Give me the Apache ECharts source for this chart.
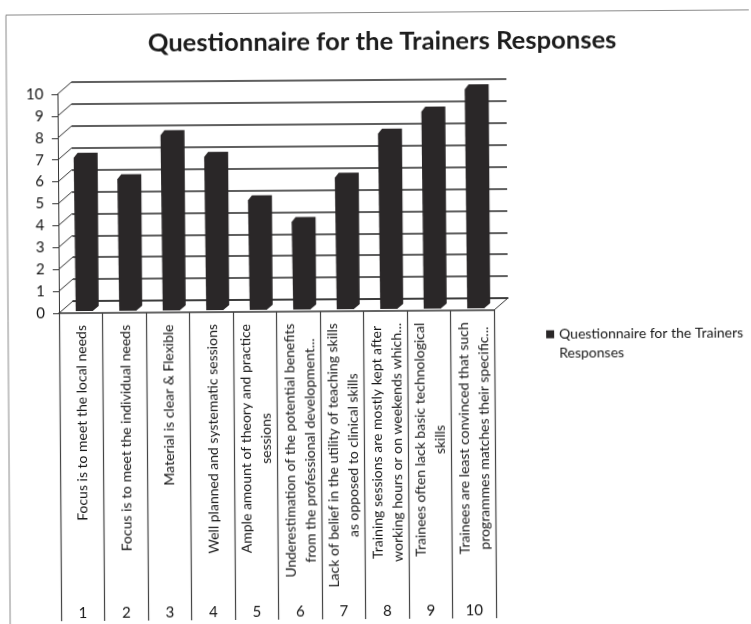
<!DOCTYPE html>
<html>
<head>
<meta charset="utf-8">
<title>Questionnaire for the Trainers Responses</title>
<script src="https://cdn.jsdelivr.net/npm/echarts@6/dist/echarts.min.js"></script>
<style>
  html, body { margin: 0; padding: 0; background: #fff; overflow: hidden; }
  /* the scan is very slightly tilted */
  #chart { width: 751px; height: 624px; transform: rotate(-0.4deg); }
</style>
</head>
<body>
<div id="chart"></div>
<script>
const seriesName = 'Questionnaire for the Trainers Responses';
const categories = ['1', '2', '3', '4', '5', '6', '7', '8', '9', '10'];
const values = [7, 6, 8, 7, 5, 4, 6, 8, 9, 10];
const yTicks = [0, 1, 2, 3, 4, 5, 6, 7, 8, 9, 10];
// wrapped the same way as the original axis labels
const labelLines = [
  ['Focus is to meet the local needs'],
  ['Focus is to meet the individual needs'],
  ['Material is clear & Flexible'],
  ['Well planned and systematic sessions'],
  ['Ample amount of theory and practice', 'sessions'],
  ['Underestimation of the potential benefits', 'from the professional development...'],
  ['Lack of belief in the utility of teaching skills', 'as opposed to clinical skills'],
  ['Training sessions are mostly kept after', 'working hours or on weekends which...'],
  ['Trainees often lack basic technological', 'skills'],
  ['Trainees are least convinced that such', 'programmes matches their specific...']
];

const FONT = 'Lato, "Open Sans", sans-serif';
const LABEL_SIZE = 14;
const TEXT_COLOR = '#161616';
const DEPTH_X = 14;
const DEPTH_Y = 12;

const measure = document.createElement('canvas').getContext('2d');
measure.font = LABEL_SIZE + 'px Lato';
const blockLength = lines => Math.max(...lines.map(l => measure.measureText(l).width));

const chart = echarts.init(document.getElementById('chart'));

chart.setOption({
  animation: false,
  backgroundColor: '#fff',
  // page frame of the scanned figure
  graphic: [{
    type: 'rect',
    silent: true,
    shape: { x: 8, y: 12.5, width: 800, height: 700 },
    style: { fill: null, stroke: '#8a8a8a', lineWidth: 1 }
  }],
  title: {
    text: 'Questionnaire for the Trainers Responses',
    left: 379,
    top: 24,
    textAlign: 'center',
    textStyle: { fontFamily: FONT, fontSize: 25.6, fontWeight: 'bold', color: '#1c1c1c' }
  },
  legend: {
    left: 546,
    top: 307,
    padding: 0,
    orient: 'vertical',
    icon: 'rect',
    itemWidth: 8,
    itemHeight: 8,
    data: [seriesName],
    // blank first line keeps the marker level with the first text line
    formatter: () => ' \nQuestionnaire for the Trainers\nResponses',
    textStyle: { fontFamily: FONT, fontSize: 14, color: TEXT_COLOR, lineHeight: 19 }
  },
  grid: [
    { left: 59, top: 92, width: 435, height: 219 },
    { left: 59 + DEPTH_X, top: 92 - DEPTH_Y, width: 435, height: 219 }
  ],
  xAxis: [
    {
      type: 'category',
      gridIndex: 0,
      data: categories,
      axisLine: { lineStyle: { color: '#333', width: 1.5 } },
      axisTick: { show: true, length: 308, lineStyle: { color: '#444', width: 1.2 } },
      axisLabel: { margin: 293, fontFamily: FONT, fontSize: 15, color: TEXT_COLOR, interval: 0 }
    },
    {
      type: 'category',
      gridIndex: 1,
      data: categories,
      axisLine: { lineStyle: { color: '#333', width: 1.5 } },
      axisTick: { show: false },
      axisLabel: { show: false }
    }
  ],
  yAxis: [
    {
      type: 'value',
      gridIndex: 0,
      min: 0,
      max: 10,
      interval: 1,
      axisLine: { show: true, lineStyle: { color: '#333', width: 1 } },
      axisTick: { show: true, length: 6, lineStyle: { color: '#333' } },
      axisLabel: { margin: 14, fontFamily: FONT, fontSize: 15, color: TEXT_COLOR },
      splitLine: { show: false }
    },
    {
      type: 'value',
      gridIndex: 1,
      min: 0,
      max: 10,
      interval: 1,
      axisLine: { show: false },
      axisTick: { show: false },
      axisLabel: { show: false },
      splitLine: { show: true, lineStyle: { color: '#2a2a2a', width: 1.5 } }
    }
  ],
  series: [
    // diagonal side-wall lines from the value axis to the back wall
    {
      type: 'custom',
      xAxisIndex: 0,
      yAxisIndex: 0,
      silent: true,
      data: yTicks.map(t => [0, t]),
      renderItem: (params, api) => {
        const y = api.coord([0, api.value(1)])[1];
        const x = params.coordSys.x;
        return {
          type: 'line',
          shape: { x1: x, y1: y, x2: x + DEPTH_X, y2: y - DEPTH_Y },
          style: { stroke: '#333', lineWidth: 1, fill: null }
        };
      }
    },
    // right floor edge
    {
      type: 'custom',
      xAxisIndex: 0,
      yAxisIndex: 0,
      silent: true,
      data: [[0, 0]],
      renderItem: (params, api) => {
        const y = api.coord([0, 0])[1];
        const x = params.coordSys.x + params.coordSys.width;
        return {
          type: 'line',
          shape: { x1: x, y1: y, x2: x + DEPTH_X, y2: y - DEPTH_Y },
          style: { stroke: '#333', lineWidth: 1, fill: null }
        };
      }
    },
    // the bars, with the small bevel of the 3D column
    {
      name: seriesName,
      type: 'custom',
      xAxisIndex: 0,
      yAxisIndex: 0,
      itemStyle: { color: '#2a2728' },
      data: values.map((v, i) => [i, v]),
      z: 5,
      renderItem: (params, api) => {
        const top = api.coord([api.value(0), api.value(1)]);
        const base = api.coord([api.value(0), 0]);
        const c = top[0];
        return {
          type: 'polygon',
          shape: {
            points: [
              [c - 6, top[1] - 2],
              [c - 2, top[1] - 7],
              [c + 18, top[1] - 7],
              [c + 18, base[1] - 7],
              [c + 12, base[1] - 2],
              [c - 5, base[1] - 2]
            ]
          },
          style: { fill: api.visual('color') }
        };
      }
    },
    // rotated category captions, top aligned in their cell, lines centred
    {
      type: 'custom',
      xAxisIndex: 0,
      yAxisIndex: 0,
      silent: true,
      data: labelLines.map((l, i) => [i, 0]),
      renderItem: (params, api) => {
        const p = api.coord([api.value(0), 0]);
        const lines = labelLines[params.dataIndex];
        return {
          type: 'text',
          x: p[0] + 1,
          y: p[1] + 12 + blockLength(lines) / 2,
          rotation: Math.PI / 2,
          style: {
            text: lines.join('\n'),
            align: 'center',
            verticalAlign: 'middle',
            fontFamily: FONT,
            fontSize: LABEL_SIZE,
            lineHeight: 20,
            fill: TEXT_COLOR
          }
        };
      }
    }
  ]
});
</script>
</body>
</html>
